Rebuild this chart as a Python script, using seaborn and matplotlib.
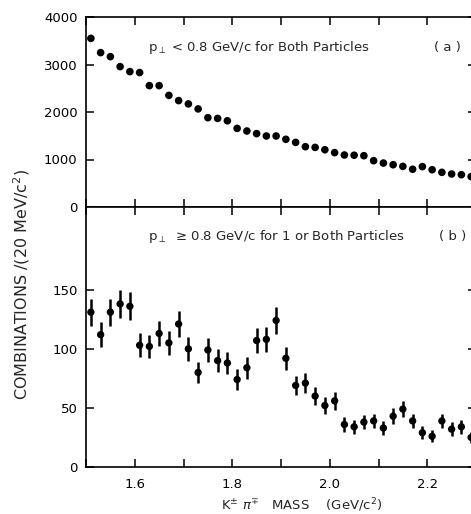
import numpy as np
import pandas as pd
import matplotlib
matplotlib.use("Agg")
import matplotlib.pyplot as plt
from matplotlib.ticker import MultipleLocator, FixedLocator
import seaborn as sns

# ---- data ----
mass = [1.51, 1.53, 1.55, 1.57, 1.59, 1.61, 1.63, 1.65, 1.67, 1.69,
        1.71, 1.73, 1.75, 1.77, 1.79, 1.81, 1.83, 1.85, 1.87, 1.89,
        1.91, 1.93, 1.95, 1.97, 1.99, 2.01, 2.03, 2.05, 2.07, 2.09,
        2.11, 2.13, 2.15, 2.17, 2.19, 2.21, 2.23, 2.25, 2.27, 2.29]
counts_low_pt = [3550, 3250, 3165, 2955, 2850, 2830, 2555, 2555, 2350, 2240,
                 2170, 2065, 1880, 1865, 1815, 1655, 1600, 1545, 1495, 1495,
                 1425, 1360, 1270, 1255, 1205, 1145, 1095, 1090, 1080, 975,
                 925, 890, 855, 795, 850, 785, 730, 695, 680, 640]
counts_high_pt = [131, 112, 131, 138, 136, 103, 102, 113, 105, 121,
                  100, 80, 99, 90, 88, 74, 84, 107, 108, 124,
                  92, 69, 71, 60, 52, 56, 36, 34, 38, 39,
                  33, 43, 49, 39, 29, 26, 39, 32, 34, 25]
top_yticks = [0, 1000, 2000, 3000, 4000]
bot_yticks = [0, 50, 100, 150]
xtick_labels = [1.6, 1.8, 2.0, 2.2]

df_a = pd.DataFrame({"mass": mass, "n": counts_low_pt})
df_b = pd.DataFrame({"mass": mass, "n": counts_high_pt})
df_b["err"] = np.sqrt(df_b["n"])

sns.set_theme(style="ticks")
plt.rcParams["font.family"] = ["DejaVu Sans"]
plt.rcParams["axes.linewidth"] = 1.2
plt.rcParams["mathtext.fontset"] = "dejavusans"

W, H = 471, 514
fig = plt.figure(figsize=(W / 100, H / 100), dpi=100)
left = 86 / W
width = 390 / W
ax_a = fig.add_axes([left, (H - 207) / H, width, 190 / H])
ax_b = fig.add_axes([left, (H - 467) / H, width, 260 / H])

# top panel
sns.scatterplot(data=df_a, x="mass", y="n", ax=ax_a, color="black",
                s=30, edgecolor="none", legend=False)
ax_a.set_ylim(0, 4000)
ax_a.set_yticks(top_yticks)

# bottom panel
ax_b.vlines(df_b["mass"], df_b["n"] - df_b["err"], df_b["n"] + df_b["err"],
            color="black", lw=1.8)
sns.scatterplot(data=df_b, x="mass", y="n", ax=ax_b, color="black",
                s=28, edgecolor="none", legend=False, zorder=3)
ax_b.set_ylim(0, 220)
ax_b.set_yticks(bot_yticks)

for ax in (ax_a, ax_b):
    ax.set_xlim(1.5, 2.3)
    ax.xaxis.set_major_locator(FixedLocator(xtick_labels))
    ax.xaxis.set_minor_locator(MultipleLocator(0.1))
    ax.tick_params(axis="both", which="both", direction="in", top=True,
                   right=True, length=6, width=1.1, colors="black",
                   labelsize=9.5)
    ax.tick_params(axis="y", pad=6)
    ax.tick_params(axis="x", pad=8)
    ax.set_xlabel("")
    ax.set_ylabel("")
    for s in ax.spines.values():
        s.set_color("black")

ax_a.tick_params(axis="x", labelbottom=False)
ax_b.set_xticklabels(["1.6", "1.8", "2.0", "2.2"])

ax_a.text(0.159, 0.837, r"p$_{\perp}$ < 0.8 GeV/c for Both Particles",
          transform=ax_a.transAxes, fontsize=9.5, va="center", ha="left")
ax_a.text(0.928, 0.837, "( a )", transform=ax_a.transAxes, fontsize=9.5,
          va="center", ha="center")
ax_b.text(0.159, 0.885, r"p$_{\perp}$  ≥ 0.8 GeV/c for 1 or Both Particles",
          transform=ax_b.transAxes, fontsize=9.5, va="center", ha="left")
ax_b.text(0.941, 0.885, "( b )", transform=ax_b.transAxes, fontsize=9.5,
          va="center", ha="center")

fig.text(22 / W, (H - 285) / H, r"COMBINATIONS /(20 MeV/c$^{2}$)",
         rotation=90, fontsize=11.5, ha="center", va="center")
fig.text(302 / W, (H - 505) / H,
         r"K$^{\pm}$ $\pi^{\mp}$   MASS    (GeV/c$^{2}$)",
         fontsize=9.5, ha="center", va="center")

fig.savefig("out.png", dpi=100, facecolor="white")
